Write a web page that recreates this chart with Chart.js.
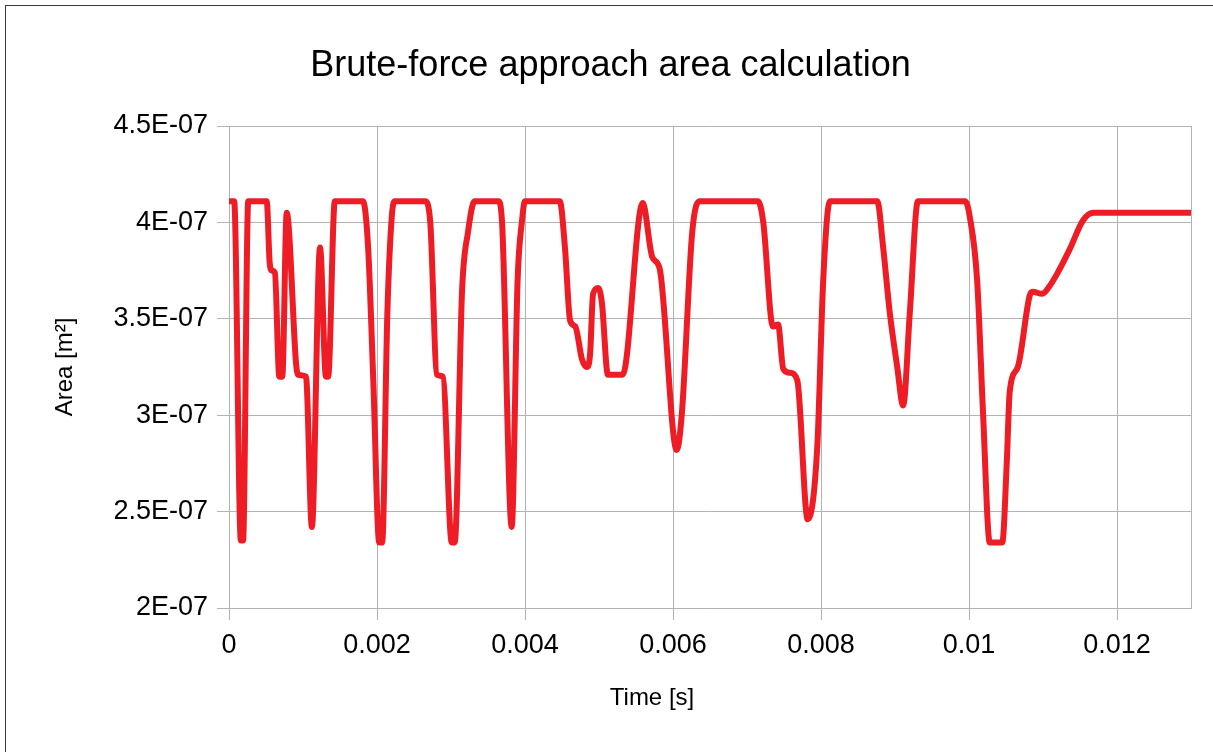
<!DOCTYPE html>
<html>
<head>
<meta charset="utf-8">
<title>Brute-force approach area calculation</title>
<script src="https://cdn.jsdelivr.net/npm/chart.js@4.4.0/dist/chart.umd.min.js"></script>
<style>
    html, body { margin: 0; padding: 0; background: #fff; }
    #contenedor { width: 1213px; height: 752px; }
</style>
</head>
<body>
<div id="contenedor"><canvas id="graficoArea" width="1213" height="752"></canvas></div>
<script>
// ============================================
// DATOS
// ============================================

// Tiempo [s]
const tiempos = [
    0, 0.00007, 0.00016, 0.00019, 0.00026, 0.00051, 0.00055, 0.00058, 0.00062, 0.00068,
    0.00072, 0.00078, 0.00093, 0.00104, 0.00112, 0.00123, 0.00131, 0.00134, 0.00143, 0.00181,
    0.00188, 0.00195, 0.00203, 0.00207, 0.00214, 0.00220, 0.00224, 0.00265, 0.00272, 0.00281,
    0.00289, 0.00301, 0.00305, 0.00315, 0.00323, 0.00332, 0.00364, 0.00369, 0.00382, 0.00390,
    0.00396, 0.00400, 0.00447, 0.00454, 0.00461, 0.00468, 0.00477, 0.00484, 0.00488, 0.00492,
    0.00499, 0.00504, 0.00512, 0.00532, 0.00559, 0.00572, 0.00582, 0.00605, 0.00612, 0.00626,
    0.00636, 0.00715, 0.00722, 0.00735, 0.00742, 0.00749, 0.00758, 0.00768, 0.00782, 0.00795,
    0.00803, 0.00812, 0.00876, 0.00884, 0.00893, 0.00903, 0.00911, 0.00920, 0.00931, 0.00995,
    0.01001, 0.01011, 0.01019, 0.01028, 0.01045, 0.01051, 0.01055, 0.01066, 0.01082, 0.01086,
    0.01099, 0.01109, 0.01120, 0.01136, 0.01154, 0.01168, 0.01300
];

// Área [m²]
const areas = [
    4.11e-7, 4.11e-7, 2.35e-7, 2.35e-7, 4.11e-7, 4.11e-7, 3.79e-7, 3.75e-7, 3.74e-7, 3.20e-7,
    3.20e-7, 4.05e-7, 3.21e-7, 3.20e-7, 2.42e-7, 3.87e-7, 3.20e-7, 3.20e-7, 4.11e-7, 4.11e-7,
    3.87e-7, 3.18e-7, 2.34e-7, 2.34e-7, 3.53e-7, 4.03e-7, 4.11e-7, 4.11e-7, 4.00e-7, 3.21e-7,
    3.20e-7, 2.34e-7, 2.34e-7, 3.65e-7, 3.95e-7, 4.11e-7, 4.11e-7, 4.00e-7, 2.42e-7, 3.70e-7,
    4.01e-7, 4.11e-7, 4.11e-7, 3.87e-7, 3.49e-7, 3.46e-7, 3.29e-7, 3.25e-7, 3.32e-7, 3.63e-7,
    3.66e-7, 3.58e-7, 3.21e-7, 3.21e-7, 4.10e-7, 3.82e-7, 3.76e-7, 2.82e-7, 3.01e-7, 3.95e-7,
    4.11e-7, 4.11e-7, 4.00e-7, 3.46e-7, 3.47e-7, 3.24e-7, 3.22e-7, 3.18e-7, 2.46e-7, 2.84e-7,
    3.70e-7, 4.11e-7, 4.11e-7, 3.87e-7, 3.53e-7, 3.25e-7, 3.05e-7, 3.53e-7, 4.11e-7, 4.11e-7,
    4.03e-7, 3.70e-7, 3.01e-7, 2.34e-7, 2.34e-7, 2.75e-7, 3.12e-7, 3.25e-7, 3.62e-7, 3.64e-7,
    3.63e-7, 3.67e-7, 3.74e-7, 3.86e-7, 4.01e-7, 4.05e-7, 4.05e-7
];

// Marcas de los ejes
const marcasX = [0, 0.002, 0.004, 0.006, 0.008, 0.01, 0.012];
const limitesX = { min: 0, max: 0.013 };
const limitesY = { min: 2e-7, max: 4.5e-7, paso: 0.5e-7 };

const COLOR_LINEA = '#ee1c25';
const COLOR_GRILLA = '#b3b3b3';
const FUENTE = '"Liberation Sans", Arial, sans-serif';

Chart.defaults.font.family = FUENTE;
Chart.defaults.color = '#000';

// Fondo blanco y marco de la página
const marcoPagina = {
    id: 'marcoPagina',
    beforeDraw(chart) {
        const { ctx, width, height } = chart;
        ctx.save();
        ctx.fillStyle = '#fff';
        ctx.fillRect(0, 0, width, height);
        ctx.strokeStyle = '#3c3c3c';
        ctx.lineWidth = 1;
        ctx.strokeRect(5.5, 5.5, width + 20, height + 20);
        ctx.restore();
    }
};

// Título del eje X (no centrado sobre el área del gráfico en el original)
const tituloEjeX = {
    id: 'tituloEjeX',
    afterDraw(chart, args, opts) {
        const { ctx } = chart;
        ctx.save();
        ctx.font = opts.tamano + 'px ' + FUENTE;
        ctx.fillStyle = '#000';
        ctx.textAlign = 'center';
        ctx.textBaseline = 'middle';
        ctx.fillText(opts.texto, opts.x, opts.y);
        ctx.restore();
    }
};

function formatoX(valor) {
    if (!marcasX.some(m => Math.abs(m - valor) < 1e-9)) return '';
    return String(valor);
}

function formatoY(valor) {
    const m = Math.round(valor * 1e8) / 10;
    return m + 'E-07';
}

const puntos = tiempos.map((t, i) => ({ x: t, y: areas[i] }));

new Chart(document.getElementById('graficoArea'), {
    type: 'line',
    data: {
        datasets: [{
            label: 'Area',
            data: puntos,
            borderColor: COLOR_LINEA,
            backgroundColor: COLOR_LINEA,
            borderWidth: 6,
            pointRadius: 0,
            cubicInterpolationMode: 'monotone',
            borderJoinStyle: 'round',
            borderCapStyle: 'round',
            fill: false
        }]
    },
    options: {
        responsive: false,
        animation: false,
        layout: { padding: { top: 0, left: 8, right: 0, bottom: 0 } },
        plugins: {
            legend: { display: false },
            tooltip: { enabled: false },
            title: {
                display: true,
                text: 'Brute-force approach area calculation',
                color: '#000',
                font: { size: 36, weight: 'normal' },
                padding: { top: 44, bottom: 38.8 }
            },
            tituloEjeX: { texto: 'Time [s]', tamano: 24, x: 652, y: 698 }
        },
        scales: {
            x: {
                type: 'linear',
                min: limitesX.min,
                max: limitesX.max,
                afterBuildTicks: escala => {
                    escala.ticks = marcasX.concat([limitesX.max]).map(v => ({ value: v }));
                },
                ticks: {
                    callback: formatoX,
                    maxRotation: 0,
                    autoSkip: false,
                    padding: 9,
                    color: '#000',
                    font: { size: 27 }
                },
                grid: {
                    color: COLOR_GRILLA,
                    tickLength: 12,
                    tickColor: ctx => (ctx.tick && ctx.tick.value > 0.0125) ? 'rgba(0,0,0,0)' : COLOR_GRILLA
                },
                border: { color: COLOR_GRILLA },
                title: { display: false },
                afterFit: escala => { escala.height = 144; }
            },
            y: {
                type: 'linear',
                min: limitesY.min,
                max: limitesY.max,
                ticks: {
                    stepSize: limitesY.paso,
                    callback: formatoY,
                    padding: 9,
                    color: '#000',
                    font: { size: 27 }
                },
                grid: {
                    color: COLOR_GRILLA,
                    tickLength: 12,
                    tickColor: COLOR_GRILLA
                },
                border: { color: COLOR_GRILLA },
                title: {
                    display: true,
                    text: 'Area [m²]',
                    color: '#000',
                    font: { size: 24 },
                    padding: { top: 42.6, bottom: 0 }
                },
                afterFit: escala => { escala.width = 221; }
            },
            // eje vacío a la derecha para dejar el margen del original
            margenDerecho: {
                type: 'linear',
                position: 'right',
                display: true,
                grid: { display: false },
                ticks: { display: false },
                border: { display: false },
                afterFit: escala => { escala.width = 22; }
            }
        }
    },
    plugins: [marcoPagina, tituloEjeX]
});
</script>
</body>
</html>
